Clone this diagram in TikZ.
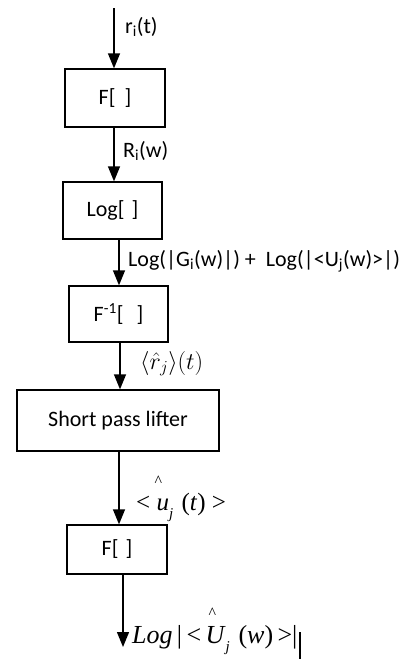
\documentclass[tikz,border=0pt]{standalone}
\usepackage{fix-cm}
\usepackage{fontspec}
\setmainfont{Carlito}
\newfontfamily\tnr{Liberation Serif}
\usetikzlibrary{arrows.meta}
\newcommand{\hatmark}[2]{\makebox[0pt][l]{\hspace{#1}\raisebox{#2}{\fontsize{16}{16}\selectfont\upshape\textasciicircum}}}
\newcommand{\lowsub}[2]{\raisebox{#1}{\fontsize{15}{15}\selectfont\textit{#2}}}
\begin{document}
\begin{tikzpicture}[x=1pt,y=-1pt,
  box/.style={draw, line width=1.3pt, inner sep=0pt, font=\fontsize{22}{26}\selectfont},
  flow/.style={line width=1.3pt, -{Triangle[length=15pt,width=12pt]}},
  lbl/.style={anchor=base west, inner sep=0pt, font=\fontsize{22}{26}\selectfont},
  mlbl/.style={anchor=base west, inner sep=0pt, font=\tnr\fontsize{25}{30}\selectfont},
]
\useasboundingbox (0,0) rectangle (406,659);
% boxes
\node[box, minimum width=100pt, minimum height=58pt] (b1) at (115,98) {F[\hspace{9pt}]};
\node[box, minimum width=99pt, minimum height=57pt] (b2) at (112.5,210.5) {Log[\hspace{7pt}]};
\node[box, minimum width=99pt, minimum height=56pt] (b3) at (118.5,314) {F\textsuperscript{-1}[\hspace{13pt}]};
\node[box, minimum width=202pt, minimum height=61pt] (b4) at (118,420.5) {Short pass lifter};
\node[box, minimum width=100pt, minimum height=49pt] (b5) at (117,549.5) {F[\hspace{7pt}]};
% arrow columns
\coordinate (c1) at (114,0);
\coordinate (c3) at (119,0);
\coordinate (c4) at (120,0);
\coordinate (c5) at (119,0);
\coordinate (c6) at (123,0);
\coordinate (start) at (114,8);
\coordinate (finish) at (123,647);
% connectors
\draw[flow] (start) -- (b1.north -| c1);
\draw[flow] (b1.south -| c1) -- (b2.north -| c1);
\draw[flow] (b2.south -| c3) -- (b3.north -| c3);
\draw[flow] (b3.south -| c4) -- (b4.north -| c4);
\draw[flow] (b4.south -| c5) -- (b5.north -| c5);
\draw[flow] (b5.south -| c6) -- (finish);
% labels
\node[lbl] (l1) at (125,33) {r\textsubscript{i}(t)};
\node[lbl] (l2) at (123,157) {R\textsubscript{i}(w)};
\node[lbl] (l3) at (128,266) {Log(|G\textsubscript{i}(w)|) +\ \ Log(|<U\textsubscript{j}(w)>|)};
\node[anchor=base west, inner sep=0pt, font=\fontsize{24}{28}\selectfont] (l4) at (140,369) {$\langle\hat{r}_{j}\rangle(t)$};
\node[mlbl] (l5) at (136,510) {<\ \hatmark{-2pt}{24pt}\textit{u}\lowsub{-8pt}{j}\,\,(\textit{t})\ >};
\node[mlbl, font=\tnr\fontsize{26}{30}\selectfont] (l6) at (132,643) {\textit{Log}\,|\,<\,\hatmark{3pt}{25pt}\textit{U}\lowsub{-8pt}{j}\,\,(\textit{w})\,>|};
% cursor mark
\coordinate (cur) at (300,632);
\draw[line width=2pt] (cur) -- (cur |- 0,659);
\end{tikzpicture}
\end{document}
